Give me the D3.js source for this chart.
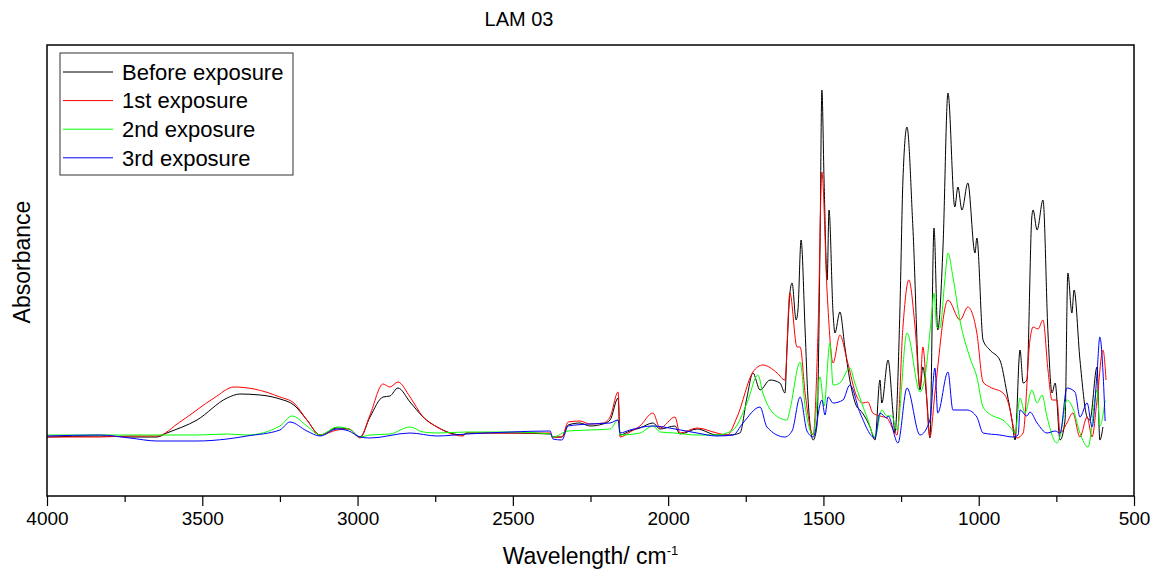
<!DOCTYPE html>
<html>
<head>
<meta charset="utf-8">
<script src="https://cdn.jsdelivr.net/npm/d3@7/dist/d3.min.js"></script>
<style>
  body { margin: 0; background: #fff; }
  text { font-family: "Liberation Sans", Arial, sans-serif; fill: #000; }
</style>
</head>
<body>
<div id="chart"></div>
<script>
// FTIR spectra, LAM 03
const seriesNames = ['Before exposure', '1st exposure', '2nd exposure', '3rd exposure'];
const seriesColors = ['#000000', '#ff0000', '#00ff00', '#0000ff'];
const majorTicks = [4000, 3500, 3000, 2500, 2000, 1500, 1000, 500];
const minorTicks = [3750, 3250, 2750, 2250, 1750, 1250, 750];

// [wavenumber cm-1, absorbance]
const beforeExposure = [
  [4000,0.118],[3829,0.120],[3733,0.118],[3646,0.118],[3614,0.126],[3517,0.152],[3420,0.196],[3379,0.204],
  [3314,0.202],[3250,0.194],[3205,0.182],[3163,0.152],[3121,0.122],[3066,0.136],[3028,0.134],[2992,0.118],
  [2960,0.158],[2918,0.198],[2896,0.200],[2870,0.216],[2831,0.188],[2789,0.158],[2744,0.138],[2661,0.122],
  [2648,0.126],[2509,0.126],[2380,0.124],[2371,0.118],[2342,0.118],[2322,0.142],[2284,0.146],[2252,0.140],
  [2210,0.144],[2187,0.152],[2161,0.196],[2155,0.122],[2123,0.130],[2091,0.136],[2049,0.146],[2026,0.134],
  [1978,0.140],[1962,0.124],[1907,0.134],[1843,0.122],[1801,0.122],[1769,0.126],[1746,0.198],[1727,0.246],
  [1704,0.212],[1672,0.232],[1640,0.226],[1624,0.206],[1617,0.298],[1608,0.406],[1601,0.426],[1588,0.352],
  [1582,0.372],[1572,0.512],[1559,0.332],[1550,0.198],[1533,0.112],[1521,0.140],[1511,0.498],[1505,0.812],
  [1498,0.632],[1488,0.432],[1482,0.572],[1469,0.366],[1463,0.326],[1447,0.368],[1431,0.298],[1415,0.232],
  [1392,0.178],[1382,0.172],[1350,0.138],[1334,0.112],[1318,0.232],[1312,0.186],[1292,0.272],[1276,0.166],
  [1270,0.126],[1254,0.366],[1244,0.632],[1231,0.738],[1212,0.538],[1189,0.212],[1180,0.258],[1167,0.192],
  [1157,0.116],[1144,0.536],[1132,0.332],[1115,0.498],[1099,0.806],[1077,0.578],[1067,0.618],[1054,0.572],
  [1035,0.626],[1012,0.486],[1006,0.516],[986,0.312],[964,0.292],[932,0.272],[909,0.206],[893,0.152],
  [883,0.112],[867,0.292],[857,0.226],[845,0.232],[829,0.558],[825,0.572],[812,0.532],[793,0.592],
  [777,0.326],[764,0.206],[754,0.226],[738,0.112],[722,0.152],[713,0.446],[700,0.366],[693,0.412],
  [674,0.272],[651,0.158],[642,0.152],[619,0.258],[610,0.112],[600,0.138]
];

const firstExposure = [
  [4000,0.118],[3829,0.118],[3733,0.120],[3646,0.120],[3572,0.148],[3462,0.196],[3398,0.218],[3333,0.214],
  [3250,0.198],[3205,0.186],[3163,0.152],[3121,0.122],[3066,0.132],[3028,0.134],[2992,0.116],[2960,0.162],
  [2918,0.224],[2896,0.218],[2870,0.228],[2831,0.198],[2789,0.158],[2744,0.138],[2661,0.120],[2648,0.126],
  [2509,0.126],[2380,0.126],[2371,0.118],[2342,0.118],[2322,0.148],[2284,0.150],[2252,0.144],[2210,0.146],
  [2187,0.158],[2161,0.208],[2155,0.118],[2123,0.128],[2091,0.140],[2049,0.166],[2026,0.136],[1978,0.158],
  [1962,0.126],[1907,0.136],[1843,0.126],[1810,0.122],[1778,0.158],[1727,0.248],[1695,0.262],[1649,0.246],
  [1624,0.232],[1608,0.406],[1585,0.298],[1575,0.298],[1559,0.206],[1533,0.122],[1517,0.338],[1505,0.648],
  [1488,0.406],[1469,0.266],[1447,0.322],[1424,0.272],[1392,0.198],[1373,0.186],[1357,0.188],[1341,0.166],
  [1318,0.160],[1296,0.156],[1263,0.122],[1244,0.338],[1225,0.432],[1205,0.338],[1189,0.218],[1180,0.298],
  [1157,0.118],[1141,0.206],[1099,0.392],[1060,0.352],[1035,0.378],[1006,0.326],[986,0.228],[964,0.218],
  [922,0.206],[899,0.172],[893,0.152],[877,0.116],[857,0.126],[835,0.312],[825,0.338],[809,0.334],
  [793,0.352],[777,0.252],[764,0.192],[748,0.192],[738,0.126],[716,0.146],[697,0.166],[674,0.118],
  [651,0.158],[635,0.118],[619,0.192],[600,0.292],[590,0.232]
];

const secondExposure = [
  [4000,0.122],[3829,0.122],[3646,0.122],[3517,0.122],[3420,0.124],[3356,0.122],[3250,0.140],[3211,0.160],
  [3163,0.140],[3121,0.122],[3066,0.138],[3028,0.134],[2992,0.118],[2960,0.122],[2896,0.124],[2831,0.138],
  [2789,0.128],[2744,0.126],[2648,0.128],[2509,0.128],[2380,0.124],[2371,0.118],[2322,0.130],[2252,0.132],
  [2187,0.134],[2161,0.152],[2155,0.122],[2091,0.126],[2049,0.140],[2026,0.128],[1978,0.126],[1907,0.122],
  [1843,0.122],[1791,0.132],[1746,0.186],[1711,0.242],[1695,0.206],[1662,0.166],[1617,0.152],[1608,0.172],
  [1575,0.268],[1559,0.180],[1533,0.122],[1511,0.238],[1498,0.180],[1479,0.306],[1469,0.222],[1447,0.226],
  [1415,0.256],[1398,0.224],[1360,0.158],[1334,0.118],[1312,0.172],[1296,0.160],[1280,0.160],[1263,0.132],
  [1231,0.326],[1189,0.208],[1173,0.238],[1151,0.366],[1144,0.406],[1135,0.338],[1125,0.336],[1109,0.432],
  [1099,0.486],[1083,0.438],[1060,0.350],[1028,0.276],[1006,0.238],[986,0.178],[954,0.160],[922,0.152],
  [899,0.138],[883,0.126],[867,0.196],[851,0.166],[829,0.212],[812,0.186],[796,0.202],[780,0.158],
  [748,0.106],[738,0.120],[716,0.192],[697,0.176],[674,0.126],[648,0.098],[619,0.212],[610,0.140],
  [593,0.192]
];

const thirdExposure = [
  [4000,0.120],[3829,0.122],[3733,0.116],[3646,0.110],[3517,0.110],[3420,0.114],[3356,0.120],[3250,0.132],
  [3218,0.148],[3163,0.130],[3121,0.120],[3066,0.134],[3028,0.130],[2992,0.118],[2960,0.116],[2831,0.126],
  [2744,0.120],[2648,0.124],[2509,0.128],[2380,0.130],[2371,0.114],[2342,0.112],[2322,0.140],[2252,0.144],
  [2187,0.146],[2161,0.152],[2155,0.126],[2123,0.132],[2049,0.140],[1978,0.134],[1907,0.126],[1843,0.120],
  [1791,0.122],[1759,0.146],[1704,0.178],[1682,0.138],[1624,0.118],[1601,0.130],[1575,0.198],[1553,0.130],
  [1533,0.118],[1505,0.192],[1495,0.162],[1485,0.198],[1469,0.186],[1437,0.192],[1415,0.222],[1382,0.166],
  [1334,0.116],[1318,0.166],[1296,0.156],[1292,0.160],[1260,0.106],[1231,0.216],[1189,0.122],[1157,0.152],
  [1141,0.256],[1132,0.166],[1099,0.248],[1083,0.172],[1038,0.172],[1006,0.158],[986,0.126],[932,0.122],
  [889,0.118],[873,0.122],[867,0.172],[845,0.160],[835,0.168],[812,0.146],[780,0.126],[754,0.130],
  [738,0.126],[716,0.216],[690,0.208],[674,0.158],[651,0.186],[635,0.138],[619,0.246],[610,0.318],
  [600,0.250],[593,0.150]
];

const allSeries = [beforeExposure, firstExposure, secondExposure, thirdExposure];

const svgWidth = 1158;
const svgHeight = 571;
const margin = { top: 45, right: 24, bottom: 75, left: 47 };
const width = svgWidth - margin.left - margin.right;
const height = svgHeight - margin.top - margin.bottom;

const root = d3.select('#chart')
  .append('svg')
  .attr('width', svgWidth)
  .attr('height', svgHeight);

const svg = root.append('g')
  .attr('transform', `translate(${margin.left},${margin.top})`);

const xScale = d3.scaleLinear()
  .domain([4000, 500])
  .range([0, width]);

const yScale = d3.scaleLinear()
  .domain([0, 0.902])
  .range([height, 0]);

// spectra
const line = d3.line()
  .x(d => xScale(d[0]))
  .y(d => yScale(d[1]))
  .curve(d3.curveMonotoneX);

svg.selectAll('.spectrum')
  .data(allSeries)
  .enter().append('path')
  .attr('class', 'spectrum')
  .attr('d', line)
  .attr('fill', 'none')
  .attr('stroke', (d, i) => seriesColors[i])
  .attr('stroke-width', 1);

// minor ticks
svg.append('g')
  .attr('transform', `translate(0,${height})`)
  .call(d3.axisBottom(xScale).tickValues(minorTicks).tickSize(6).tickFormat(''))
  .call(g => g.select('.domain').remove())
  .selectAll('line').attr('stroke-width', 1.2);

// major ticks + labels
const xAxis = svg.append('g')
  .attr('transform', `translate(0,${height})`)
  .call(d3.axisBottom(xScale).tickValues(majorTicks).tickSize(10).tickPadding(6).tickFormat(d3.format('d')));
xAxis.select('.domain').remove();
xAxis.selectAll('line').attr('stroke-width', 1.2);
xAxis.selectAll('text')
  .style('font-size', '19px')
  .style('font-family', '"Liberation Sans", Arial, sans-serif');

// frame
svg.append('rect')
  .attr('x', 0)
  .attr('y', 0)
  .attr('width', width)
  .attr('height', height)
  .attr('fill', 'none')
  .attr('stroke', '#000')
  .attr('stroke-width', 1.5);

// title
root.append('text')
  .attr('x', 519)
  .attr('y', 26)
  .attr('text-anchor', 'middle')
  .style('font-size', '20px')
  .text('LAM 03');

// x label
const xLabel = root.append('text')
  .attr('x', margin.left + width / 2)
  .attr('y', 564)
  .attr('text-anchor', 'middle')
  .style('font-size', '23px');
xLabel.append('tspan').text('Wavelength/ cm');
xLabel.append('tspan')
  .attr('dy', -9)
  .style('font-size', '13px')
  .text('-1');

// y label
root.append('text')
  .attr('transform', 'rotate(-90)')
  .attr('x', -262)
  .attr('y', 30)
  .attr('text-anchor', 'middle')
  .style('font-size', '23px')
  .text('Absorbance');

// legend
const legend = root.append('g').attr('transform', 'translate(60,53)');
legend.append('rect')
  .attr('width', 233)
  .attr('height', 122)
  .attr('fill', '#fff')
  .attr('stroke', '#333')
  .attr('stroke-width', 1);

const items = legend.selectAll('.item')
  .data(seriesNames)
  .enter().append('g')
  .attr('class', 'item')
  .attr('transform', (d, i) => `translate(0,${19 + i * 28.6})`);

items.append('line')
  .attr('x1', 3)
  .attr('x2', 53)
  .attr('stroke', (d, i) => seriesColors[i])
  .attr('stroke-width', 1);

items.append('text')
  .attr('x', 62)
  .attr('dy', '0.35em')
  .style('font-size', '22px')
  .text(d => d);
</script>
</body>
</html>
